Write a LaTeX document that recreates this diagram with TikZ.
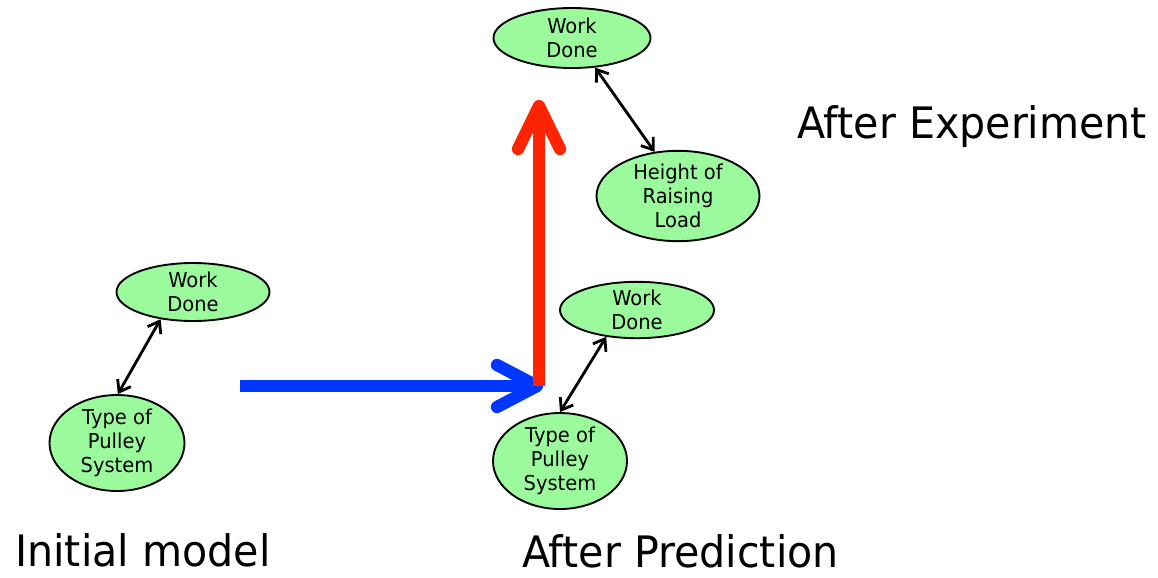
\documentclass[tikz,border=0pt]{standalone}
\usepackage{fontspec}
\setmainfont{DejaVu Sans}[FakeStretch=0.95]
\usetikzlibrary{shapes.geometric,arrows.meta}
\definecolor{nodegreen}{RGB}{155,250,155}
\definecolor{flowblue}{RGB}{0,55,255}
\definecolor{flowred}{RGB}{255,36,0}
\tikzset{
  concept/.style={ellipse,draw=black,line width=1.6pt,fill=nodegreen,inner sep=0pt,
    align=center,font=\fontsize{17.5pt}{20.5pt}\selectfont},
  link/.style={line width=2.4pt,{Straight Barb[length=9pt,width=13pt]}-{Straight Barb[length=9pt,width=13pt]}},
  bigarrow/.style={line width=10.5pt,line cap=round,line join=round},
  caption/.style={font=\fontsize{37pt}{42pt}\selectfont,inner sep=0pt}
}
\begin{document}
\begin{tikzpicture}[x=0.03cm,y=-0.03cm]
\useasboundingbox (0,0) rectangle (1158,577);

% initial model
\node[concept,minimum width=4.59cm,minimum height=1.74cm] (wd1) at (193,292) {Work\\Done};
\node[concept,minimum width=4.05cm,minimum height=2.67cm] (tp1) at (117,443) {Type of\\Pulley\\System};
\draw[link] (wd1.220) -- (tp1.89);

% after prediction
\node[concept,minimum width=4.62cm,minimum height=1.68cm] (wd2) at (637,310) {Work\\Done};
\node[concept,minimum width=4.02cm,minimum height=2.64cm] (tp2) at (560,461) {Type of\\Pulley\\System};
\draw[link] (wd2.221) -- (tp2.90);

% after experiment
\node[concept,minimum width=4.71cm,minimum height=1.8cm] (wd3) at (572,38) {Work\\Done};
\node[concept,minimum width=4.89cm,minimum height=2.64cm] (hr3) at (678,196) {Height of\\Raising\\Load};
\draw[link] (wd3.308) -- (hr3.118);

% transitions between the models
\coordinate (bstart) at (240,386);
\coordinate (btip) at (537,386);
\coordinate (rtip) at (539,106);
\draw[flowblue,line width=10.5pt] (bstart) -- (btip);
\draw[flowblue,bigarrow] (497,365) -- (btip) -- (497,407);
\draw[flowred,line width=10pt] (539,386) -- (rtip);
\draw[flowred,bigarrow] (518,149) -- (rtip) -- (560,149);

% captions
\node[caption,anchor=west] (cap1) at (15,550) {Initial model};
\node[caption,anchor=west] (cap2) at (522,551) {After Prediction};
\node[caption,anchor=west] (cap3) at (797,127) {After Experiment};
\end{tikzpicture}
\end{document}
